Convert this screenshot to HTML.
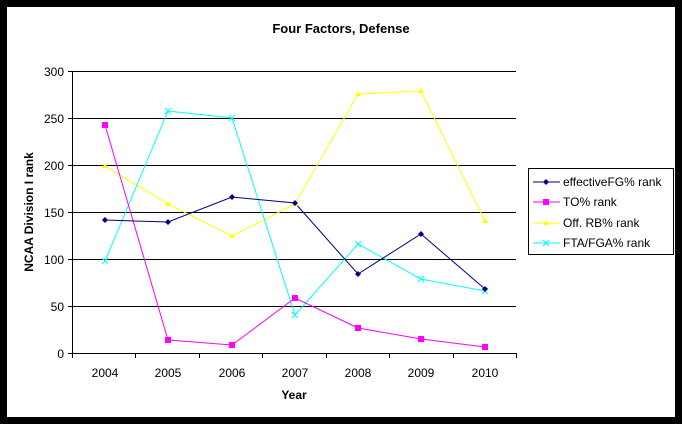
<!DOCTYPE html>
<html><head><style>body{margin:0}svg{display:block}</style></head><body>
<svg width="682" height="424" xmlns="http://www.w3.org/2000/svg" font-family="Liberation Sans, Arial, sans-serif" font-size="12">
<rect width="682" height="424" fill="#000"/>
<rect x="7" y="7" width="668" height="410" fill="#fff"/>
<text x="341" y="33" text-anchor="middle" font-weight="bold" font-size="13">Four Factors, Defense</text>
<g stroke="#000" stroke-width="1">
<line x1="72" y1="71.5" x2="516" y2="71.5"/><line x1="72" y1="118.5" x2="516" y2="118.5"/>
<line x1="72" y1="165.5" x2="516" y2="165.5"/><line x1="72" y1="212.5" x2="516" y2="212.5"/>
<line x1="72" y1="259.5" x2="516" y2="259.5"/><line x1="72" y1="306.5" x2="516" y2="306.5"/>
<line x1="72" y1="353.5" x2="516" y2="353.5"/>
<line x1="72.5" y1="71" x2="72.5" y2="358"/>
<line x1="68" y1="71.5" x2="72" y2="71.5"/><line x1="68" y1="118.5" x2="72" y2="118.5"/><line x1="68" y1="165.5" x2="72" y2="165.5"/><line x1="68" y1="212.5" x2="72" y2="212.5"/><line x1="68" y1="259.5" x2="72" y2="259.5"/><line x1="68" y1="306.5" x2="72" y2="306.5"/><line x1="68" y1="353.5" x2="72" y2="353.5"/>
<line x1="135.5" y1="353" x2="135.5" y2="358"/><line x1="199.5" y1="353" x2="199.5" y2="358"/><line x1="262.5" y1="353" x2="262.5" y2="358"/><line x1="326.5" y1="353" x2="326.5" y2="358"/><line x1="389.5" y1="353" x2="389.5" y2="358"/><line x1="453.5" y1="353" x2="453.5" y2="358"/><line x1="516.5" y1="353" x2="516.5" y2="358"/>
</g>
<g text-anchor="end"><text x="64" y="76">300</text><text x="64" y="123">250</text><text x="64" y="170">200</text><text x="64" y="217">150</text><text x="64" y="264">100</text><text x="64" y="311">50</text><text x="64" y="358">0</text></g>
<g text-anchor="middle"><text x="105" y="377">2004</text><text x="168" y="377">2005</text><text x="232" y="377">2006</text><text x="295" y="377">2007</text><text x="358" y="377">2008</text><text x="421" y="377">2009</text><text x="485" y="377">2010</text></g>
<text x="294" y="399" text-anchor="middle" font-weight="bold">Year</text>
<text transform="translate(33,212) rotate(-90)" text-anchor="middle" font-weight="bold">NCAA Division I rank</text>
<polyline fill="none" stroke="#ffff00" points="105,166 168,204 232,236 295,204 358,94 421,91 485,221"/>
<polyline fill="none" stroke="#00ffff" points="105,261 168,111 232,118 295,315 358,244 421,279 485,291"/>
<polyline fill="none" stroke="#ff00ff" points="105,125 168,340 232,345 295,298 358,328 421,339 485,347"/>
<polyline fill="none" stroke="#000080" points="105,220 168,222 232,197 295,203 358,274 421,234 485,289"/>
<g fill="#ffff00"><path d="M105,163l3,5h-6z M168,201l3,5h-6z M232,233l3,5h-6z M295,201l3,5h-6z M358,91l3,5h-6z M421,88l3,5h-6z M485,218l3,5h-6z"/></g>
<g stroke="#00ffff"><path d="M102,258l6,6m0,-6l-6,6 M165,108l6,6m0,-6l-6,6 M229,115l6,6m0,-6l-6,6 M292,312l6,6m0,-6l-6,6 M355,241l6,6m0,-6l-6,6 M418,276l6,6m0,-6l-6,6 M482,288l6,6m0,-6l-6,6"/></g>
<g fill="#ff00ff"><rect x="102" y="122" width="6" height="6"/><rect x="165" y="337" width="6" height="6"/><rect x="229" y="342" width="6" height="6"/><rect x="292" y="295" width="6" height="6"/><rect x="355" y="325" width="6" height="6"/><rect x="418" y="336" width="6" height="6"/><rect x="482" y="344" width="6" height="6"/></g>
<g fill="#000080"><path d="M105,217l3,3l-3,3l-3,-3z M168,219l3,3l-3,3l-3,-3z M232,194l3,3l-3,3l-3,-3z M295,200l3,3l-3,3l-3,-3z M358,271l3,3l-3,3l-3,-3z M421,231l3,3l-3,3l-3,-3z M485,286l3,3l-3,3l-3,-3z"/></g>
<rect x="528.5" y="168.5" width="145" height="86" fill="#fff" stroke="#000"/>
<g font-size="12">
<line x1="533" y1="182" x2="560" y2="182" stroke="#000080"/><path d="M546,179l3,3l-3,3l-3,-3z" fill="#000080"/><text x="563" y="186">effectiveFG% rank</text>
<line x1="533" y1="202" x2="560" y2="202" stroke="#ff00ff"/><rect x="543" y="199" width="6" height="6" fill="#ff00ff"/><text x="563" y="206">TO% rank</text>
<line x1="533" y1="223" x2="560" y2="223" stroke="#ffff00"/><path d="M546,220l3,5h-6z" fill="#ffff00"/><text x="563" y="227">Off. RB% rank</text>
<line x1="533" y1="243" x2="560" y2="243" stroke="#00ffff"/><path d="M543,240l6,6m0,-6l-6,6" stroke="#00ffff"/><text x="563" y="247">FTA/FGA% rank</text>
</g>
</svg>
</body></html>
